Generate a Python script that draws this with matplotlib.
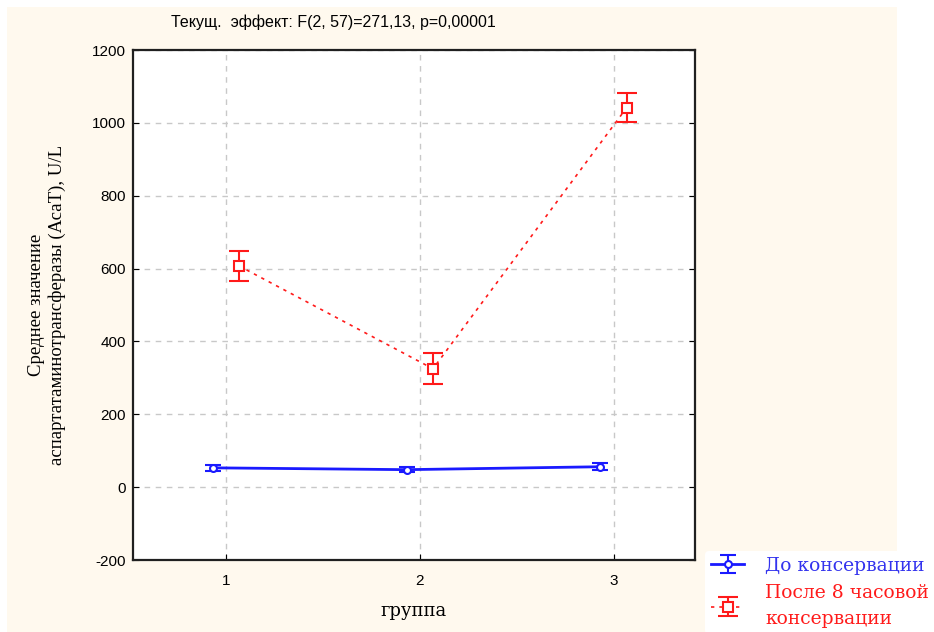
import matplotlib.pyplot as plt
from matplotlib.patches import Rectangle

# данные
groups = [1, 2, 3]
before_mean = [53, 48, 56]
before_err = [8, 7, 9]
after_mean = [607, 325, 1042]
after_err = [42, 42, 40]

title = 'Текущ.  эффект: F(2, 57)=271,13, p=0,00001'
ylabel = 'Среднее значение\nаспартатаминотрансферазы (АсаТ), U/L'
xlabel = 'группа'
labels = ['До консервации', 'После 8 часовой\nконсервации']

plt.rcParams['axes.unicode_minus'] = False

fig = plt.figure(figsize=(9.34, 6.32), dpi=100)
fig.patch.set_facecolor('white')
# бежевый фон
fig.patches.append(Rectangle((7 / 934, 0), 890 / 934, 1 - 7 / 632,
                             transform=fig.transFigure, facecolor='#fff9ee',
                             edgecolor='none', zorder=-10))

ax = fig.add_axes([133 / 934, 1 - 560 / 632, 562 / 934, 510 / 632])
ax.set_facecolor('white')

off = 0.068
bx = [g - off for g in groups]
rx = [g + off for g in groups]

h1 = ax.errorbar(bx, before_mean, yerr=before_err, color='#1a1aff', lw=2,
                 marker='o', ms=5, mfc='white', mec='#1a1aff', mew=1.5,
                 capsize=6, elinewidth=1.5, capthick=1.5, zorder=3)
h2 = ax.errorbar(rx, after_mean, yerr=after_err, color='#ff1a1a', lw=1.2,
                 ls=(0, (2, 3)), marker='s', ms=7, mfc='white', mec='#ff1a1a',
                 mew=1.5, capsize=7, elinewidth=1.5, capthick=1.5, zorder=3)

ax.set_xlim(0.52, 3.42)
ax.set_ylim(-200, 1200)
ax.set_xticks(groups)
ax.set_yticks(range(-200, 1201, 200))
ax.grid(True, color='#c8c8c8', ls=(0, (4, 4)), lw=1)
ax.tick_params(direction='in', length=4, labelsize=11, pad=5,
               top=False, right=True, labelfontfamily='Liberation Sans')
ax.tick_params(axis='x', pad=10)
for s in ax.spines.values():
    s.set_linewidth(1.6)
    s.set_color('#202020')

ax.set_xlabel(xlabel, family='DejaVu Serif', fontsize=13, labelpad=10)
ax.set_ylabel(ylabel, family='Liberation Serif', fontsize=13.5, labelpad=19)
fig.text(333 / 934, 1 - 22 / 632, title, family='Liberation Sans',
         fontsize=11.5, ha='center', va='center')

leg = ax.legend([h1, h2], labels, loc='upper left',
                bbox_to_anchor=(705 / 934, 1 - 551 / 632),
                bbox_transform=fig.transFigure, frameon=True,
                prop={'family': 'DejaVu Serif', 'size': 13.5},
                handlelength=1.8, handletextpad=1.1, labelspacing=0.5,
                borderpad=0.3, borderaxespad=0)
leg.get_frame().set_facecolor('white')
leg.get_frame().set_edgecolor('none')
leg.get_frame().set_alpha(1)
leg.texts[0].set_color('#3333ee')
leg.texts[1].set_color('#ff1a1a')
leg.texts[1].set_linespacing(1.6)

fig.savefig('out.png', dpi=100)
